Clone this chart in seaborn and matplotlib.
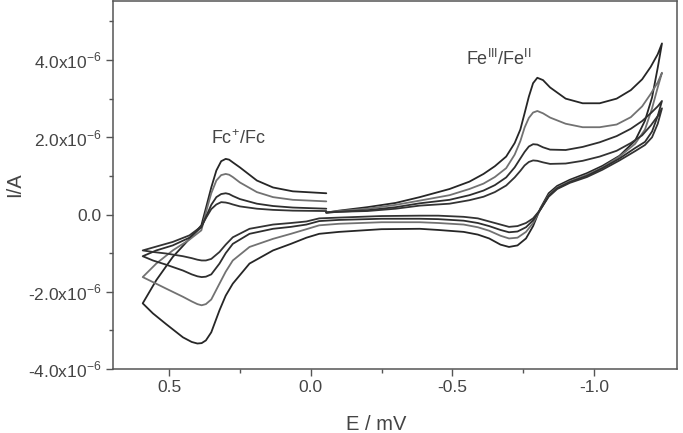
import numpy as np
import pandas as pd
import matplotlib
matplotlib.use("Agg")
import matplotlib.pyplot as plt
from matplotlib.ticker import FixedLocator
import seaborn as sns

# ---- data (potential in V, current in microampere) ----
# forward sweep through the Fe(III)/Fe(II) couple (upper branch, right part)
E_fe_up = [-0.055, -0.10, -0.20, -0.30, -0.385, -0.49, -0.56, -0.61, -0.65, -0.69,
           -0.72, -0.74, -0.755, -0.77, -0.785, -0.80, -0.82, -0.845, -0.90, -0.96,
           -1.02, -1.08, -1.13, -1.17, -1.20, -1.225, -1.24]
I_fe_up_1 = [0.05, 0.10, 0.19, 0.30, 0.45, 0.66, 0.85, 1.05, 1.25, 1.50,
             1.85, 2.20, 2.62, 3.05, 3.40, 3.54, 3.48, 3.29, 3.00, 2.88,
             2.88, 3.00, 3.22, 3.50, 3.82, 4.15, 4.43]
I_fe_up_2 = [0.05, 0.09, 0.15, 0.25, 0.36, 0.50, 0.66, 0.80, 0.97, 1.20,
             1.55, 1.90, 2.25, 2.50, 2.64, 2.68, 2.62, 2.51, 2.35, 2.26,
             2.26, 2.33, 2.52, 2.80, 3.12, 3.42, 3.67]
I_fe_up_3 = [0.05, 0.07, 0.11, 0.19, 0.29, 0.38, 0.50, 0.62, 0.76, 0.96,
             1.22, 1.45, 1.62, 1.76, 1.82, 1.81, 1.74, 1.68, 1.67, 1.75,
             1.87, 2.03, 2.22, 2.42, 2.62, 2.80, 2.94]
I_fe_up_4 = [0.05, 0.07, 0.09, 0.15, 0.23, 0.28, 0.37, 0.46, 0.58, 0.75,
             0.96, 1.13, 1.27, 1.36, 1.40, 1.39, 1.35, 1.31, 1.32, 1.39,
             1.50, 1.65, 1.85, 2.05, 2.30, 2.55, 2.75]

# reverse sweep (lower branch) from the negative vertex to the positive vertex
E_low = [-1.24, -1.225, -1.205, -1.18, -1.145, -1.09, -1.03, -0.975, -0.915, -0.87,
         -0.84, -0.81, -0.785, -0.76, -0.73, -0.70, -0.67, -0.63, -0.59, -0.54,
         -0.45, -0.385, -0.25, -0.10, -0.03, 0.015, 0.07, 0.133, 0.216, 0.275,
         0.30, 0.322, 0.351, 0.37, 0.385, 0.40, 0.42, 0.451, 0.51, 0.557, 0.593]
I_low_1 = [4.43, 3.80, 3.03, 2.43, 1.91, 1.52, 1.26, 1.07, 0.90, 0.74,
           0.55, 0.15, -0.30, -0.62, -0.80, -0.84, -0.78, -0.62, -0.52, -0.45,
           -0.40, -0.37, -0.38, -0.45, -0.50, -0.60, -0.76, -0.93, -1.27, -1.79,
           -2.10, -2.48, -3.05, -3.26, -3.33, -3.34, -3.30, -3.18, -2.84, -2.56, -2.30]
I_low_2 = [3.67, 3.29, 2.75, 2.20, 1.83, 1.50, 1.22, 1.03, 0.86, 0.70,
           0.50, 0.12, -0.22, -0.45, -0.60, -0.62, -0.55, -0.42, -0.33, -0.26,
           -0.22, -0.20, -0.20, -0.24, -0.28, -0.38, -0.50, -0.63, -0.84, -1.19,
           -1.48, -1.79, -2.20, -2.32, -2.35, -2.32, -2.25, -2.13, -1.92, -1.75, -1.62]
I_low_3 = [2.94, 2.55, 2.15, 1.88, 1.72, 1.45, 1.20, 1.00, 0.84, 0.68,
           0.48, 0.12, -0.15, -0.33, -0.44, -0.46, -0.40, -0.30, -0.22, -0.16,
           -0.12, -0.11, -0.11, -0.14, -0.17, -0.26, -0.32, -0.37, -0.50, -0.76,
           -1.00, -1.27, -1.55, -1.61, -1.62, -1.60, -1.55, -1.45, -1.30, -1.19, -1.08]
I_low_4 = [2.75, 2.35, 2.00, 1.80, 1.64, 1.40, 1.16, 0.97, 0.82, 0.66,
           0.46, 0.12, -0.10, -0.22, -0.30, -0.32, -0.26, -0.18, -0.10, -0.06,
           -0.03, -0.03, -0.04, -0.08, -0.10, -0.18, -0.22, -0.26, -0.37, -0.59,
           -0.78, -0.97, -1.15, -1.19, -1.19, -1.17, -1.13, -1.08, -1.01, -0.97, -0.93]

# final sweep back through the Fc+/Fc couple (upper branch, left part)
E_fc_up = [0.593, 0.545, 0.487, 0.428, 0.386, 0.369, 0.351, 0.333, 0.316, 0.300,
           0.288, 0.275, 0.25, 0.19, 0.133, 0.063, -0.055]
I_fc_up_1 = [-2.30, -1.70, -1.10, -0.63, -0.28, 0.19, 0.70, 1.14, 1.38, 1.44,
             1.42, 1.35, 1.22, 0.88, 0.70, 0.60, 0.55]
I_fc_up_2 = [-1.62, -1.27, -0.93, -0.65, -0.41, 0.08, 0.55, 0.88, 1.02, 1.05,
             1.03, 0.97, 0.83, 0.58, 0.45, 0.38, 0.34]
I_fc_up_3 = [-1.08, -0.93, -0.80, -0.60, -0.33, -0.05, 0.25, 0.45, 0.53, 0.55,
             0.53, 0.48, 0.40, 0.28, 0.22, 0.18, 0.15]
I_fc_up_4 = [-0.93, -0.83, -0.71, -0.54, -0.31, -0.08, 0.14, 0.26, 0.32, 0.31,
             0.29, 0.26, 0.21, 0.15, 0.12, 0.10, 0.09]

scans = ["1", "2", "3", "4"]
colors = ["#262626", "#727272", "#2e2e2e", "#333333"]

y_ticks = [-4e-6, -2e-6, 0.0, 2e-6, 4e-6]
y_labels = [r"-4.0x10$^{\mathregular{ -6}}$", r"-2.0x10$^{\mathregular{ -6}}$", "0.0",
            r"2.0x10$^{\mathregular{ -6}}$", r"4.0x10$^{\mathregular{ -6}}$"]
x_ticks = [0.5, 0.0, -0.5, -1.0]
x_labels = ["0.5", "0.0", "-0.5", "-1.0"]

# ---- build long table ----
fe_up = [I_fe_up_1, I_fe_up_2, I_fe_up_3, I_fe_up_4]
low = [I_low_1, I_low_2, I_low_3, I_low_4]
fc_up = [I_fc_up_1, I_fc_up_2, I_fc_up_3, I_fc_up_4]
rows = []
for s, a, b, c in zip(scans, fe_up, low, fc_up):
    E = list(E_fe_up) + list(E_low) + list(E_fc_up)
    I = list(a) + list(b) + list(c)
    for k, (e, i) in enumerate(zip(E, I)):
        rows.append({"scan": s, "order": k, "E": e, "I": i * 1e-6})
df = pd.DataFrame(rows)

# ---- plot ----
sns.set_style("ticks")
plt.rcParams["font.family"] = ["Liberation Sans", "DejaVu Sans"]
plt.rcParams["mathtext.fontset"] = "custom"
plt.rcParams["mathtext.rm"] = "Liberation Sans"

fig = plt.figure(figsize=(6.83, 4.33), dpi=100)
ax = fig.add_axes([0.1654, 0.1478, 0.9912 - 0.1654, 0.997 - 0.1478])

sns.lineplot(data=df, x="E", y="I", hue="scan", palette=colors, sort=False,
             estimator=None, units="scan", legend=False, linewidth=1.3, ax=ax)

ax.set_xlim(0.698, -1.293)
ax.set_ylim(-4.0e-6, 5.52e-6)

ax.xaxis.set_major_locator(FixedLocator(x_ticks))
ax.set_xticklabels(x_labels)
ax.xaxis.set_minor_locator(FixedLocator([0.25, -0.25, -0.75]))
ax.yaxis.set_major_locator(FixedLocator(y_ticks))
ax.set_yticklabels(y_labels)
ax.yaxis.set_minor_locator(FixedLocator([-3e-6, -1e-6, 1e-6, 3e-6, 5e-6]))

txtc = "#444444"
ax.tick_params(axis="both", which="major", direction="out", length=5, width=1.0,
               colors="#555555", labelcolor=txtc, labelsize=12.5, pad=3)
ax.tick_params(axis="both", which="minor", direction="out", length=3, width=1.0,
               colors="#555555")
for sp in ax.spines.values():
    sp.set_color("#555555")
    sp.set_linewidth(1.1)

ax.set_xlabel("E / mV", fontsize=14.5, color=txtc)
ax.xaxis.set_label_coords(0.466, -0.125)
ax.set_ylabel("I/A", fontsize=14.5, color=txtc)
ax.yaxis.set_label_coords(-0.158, 0.5)

ax.text(0.255, 1.96e-6, r"Fc$^{\mathregular{+}}$/Fc", fontsize=13, color=txtc,
        ha="center", va="center")
ax.text(-0.664, 4.04e-6, r"Fe$^{\mathregular{III}}$/Fe$^{\mathregular{II}}$",
        fontsize=13, color=txtc, ha="center", va="center")

fig.savefig("out.png", dpi=100)
